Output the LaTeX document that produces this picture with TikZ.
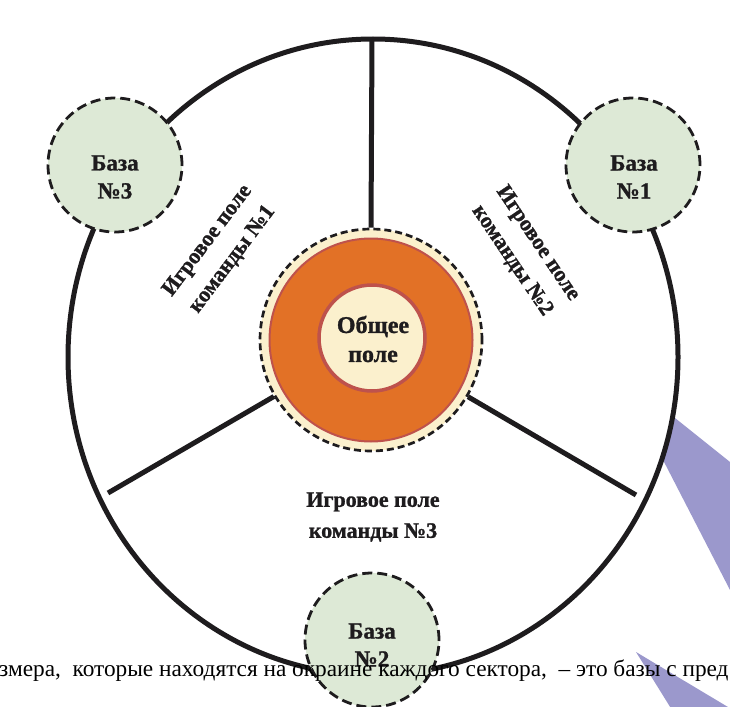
\documentclass[tikz,border=0pt]{standalone}
\usepackage{fontspec}
\setmainfont{Liberation Serif}[BoldFeatures={FakeBold=1.2}]
\definecolor{basegreen}{RGB}{221,233,214}
\definecolor{orng}{RGB}{226,113,38}
\definecolor{redb}{RGB}{190,82,76}
\definecolor{cream}{RGB}{251,240,205}
\definecolor{purp}{RGB}{155,152,204}
\definecolor{lineblk}{RGB}{30,28,30}
\begin{document}
\begin{tikzpicture}[x=1pt,y=-1pt,
  basecirc/.style={circle,draw=lineblk,dash pattern=on 10pt off 5pt,line width=2.8pt,fill=basegreen,minimum size=134pt,inner sep=0pt},
  basetxt/.style={font=\bfseries\fontsize{23}{28}\selectfont,align=center,text=lineblk},
  fieldtxt/.style={font=\bfseries\fontsize{22}{31}\selectfont,align=center,text=lineblk,inner sep=0pt},
  sep/.style={line width=5pt,draw=lineblk}]
\useasboundingbox (0,0) rectangle (730,706);
\clip (0,0) rectangle (730,706);
% decorative purple pieces
\fill[purp] (675,418) -- (730,462) -- (730,590) -- (662,458) -- cycle;
\fill[purp] (636,652) -- (733,710) -- (672,710) -- cycle;
% big field
\draw[sep] (373,357) ellipse [x radius=305, y radius=318];
\coordinate (top) at (372,39);
\coordinate (bl) at (108,493);
\coordinate (br) at (636,495);
% centre
\node[circle,draw=lineblk,dash pattern=on 7pt off 4pt,line width=2.7pt,fill=cream,minimum size=222pt,inner sep=0pt] (ctr) at (371,340) {};
\draw[sep] (top) -- (ctr.north);
\draw[sep] (bl) -- (ctr);
\draw[sep] (br) -- (ctr);
\node[circle,draw=redb,line width=2pt,fill=orng,minimum size=203pt,inner sep=0pt] (ring) at (371,340) {};
\node[circle,draw=redb,line width=3.5pt,fill=cream,minimum size=106pt,inner sep=0pt] (gen) at (372,338) {};
\node[basetxt,font=\bfseries\fontsize{24}{29}\selectfont] (gentxt) at (373,339) {Общее\\поле};
% bases
\node[basecirc] (b3) at (115,165) {};
\node[basetxt] (b3t) at (115,177) {База\\№3};
\node[basecirc] (b1) at (633,165) {};
\node[basetxt] (b1t) at (634,177) {База\\№1};
\node[basecirc] (b2) at (372,640) {};
\node[basetxt] (b2t) at (372,645) {База\\№2};
% field labels
\node[fieldtxt,rotate=53] (f1) at (220,250) {Игровое поле\\команды №1};
\node[fieldtxt,rotate=-56] (f2) at (525,252) {Игровое поле\\команды №2};
\node[fieldtxt] (f3) at (373,517) {Игровое поле\\команды №3};
% cut text line
\node[anchor=base west,inner sep=0pt,font=\fontsize{23.3}{26}\selectfont] (txt) at (-1,676) {змера,\ \ которые находятся на окраине каждого сектора,\ \ – это базы с пред};
\end{tikzpicture}
\end{document}
